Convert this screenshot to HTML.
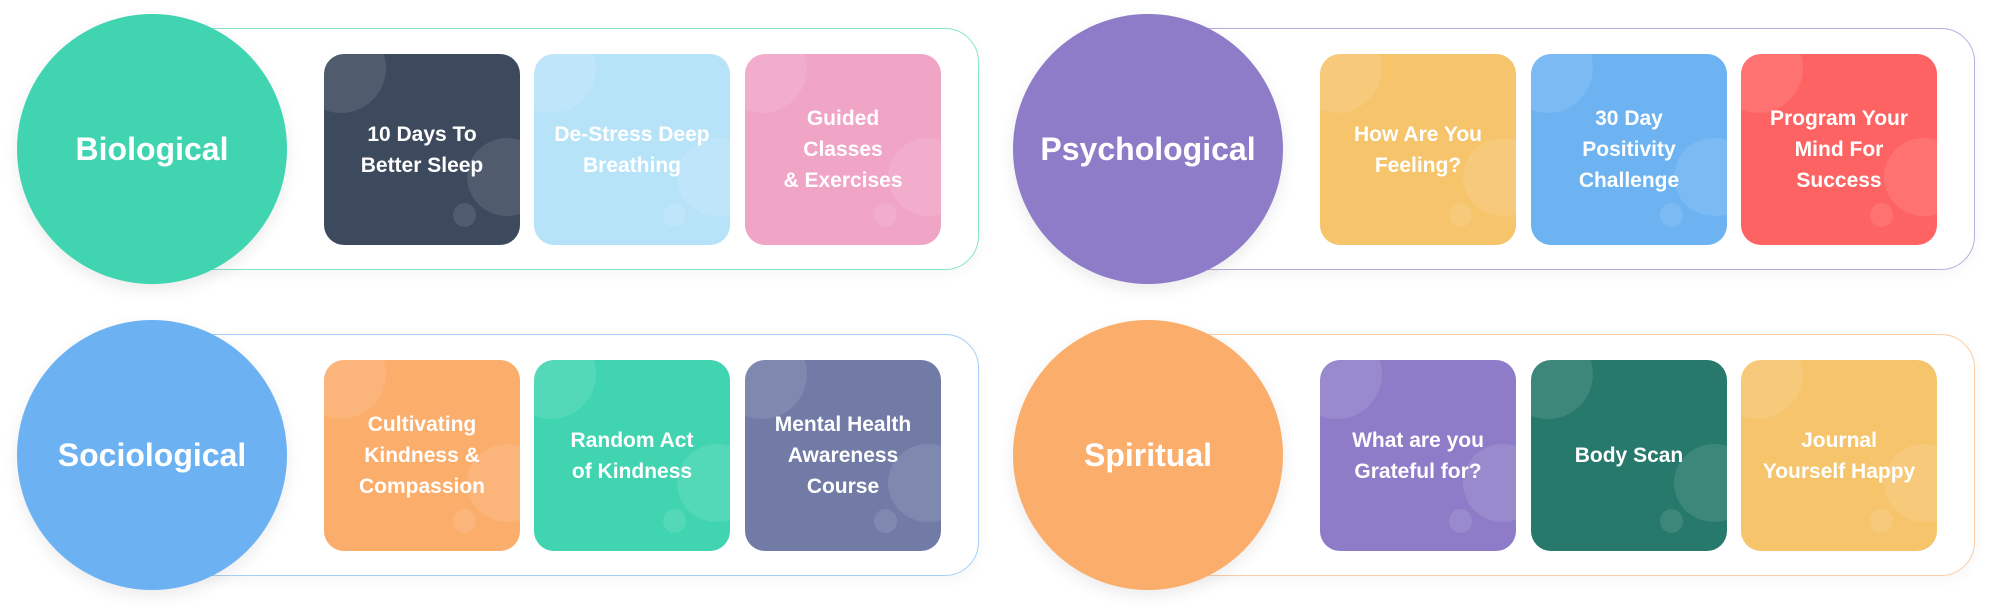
<!DOCTYPE html>
<html><head><style>
body{margin:0;width:2000px;height:610px;background:#fff;position:relative;overflow:hidden;font-family:"Liberation Sans",sans-serif;}
.panel{position:absolute;width:800px;height:242px;border:1.5px solid;border-radius:34px;box-sizing:border-box;background:#fff;box-shadow:0 4px 14px rgba(0,0,0,0.04);}
.circ{position:absolute;width:270px;height:270px;border-radius:50%;color:#fff;font-weight:bold;font-size:32px;display:flex;align-items:center;justify-content:center;box-shadow:0 6px 16px rgba(0,0,0,0.08);}
.card{position:absolute;width:196px;height:191px;border-radius:20px;overflow:hidden;color:#fff;font-weight:bold;font-size:21px;line-height:31px;text-align:center;display:flex;align-items:center;justify-content:center;}
.card span{position:relative;z-index:2;}
.b1,.b2,.b3{position:absolute;border-radius:50%;background:rgba(255,255,255,0.1);}
.b1{left:-28px;top:-31px;width:90px;height:90px;}
.b2{left:143px;top:84px;width:80px;height:78px;}
.b3{left:129px;top:149px;width:23px;height:24px;}
</style></head><body>

<div class="panel" style="left:179px;top:28px;border-color:#86e3cc"></div>
<div class="circ" style="left:17px;top:14px;background:#40d5b0">Biological</div>
<div class="card" style="left:324px;top:54px;background:#3d4a5d"><div class="b1"></div><div class="b2"></div><div class="b3"></div><span>10 Days To<br>Better Sleep</span></div>
<div class="card" style="left:534px;top:54px;background:#b7e3f9"><div class="b1"></div><div class="b2"></div><div class="b3"></div><span>De-Stress Deep<br>Breathing</span></div>
<div class="card" style="left:745px;top:54px;background:#f0a4c6"><div class="b1"></div><div class="b2"></div><div class="b3"></div><span>Guided<br>Classes<br>&amp; Exercises</span></div>

<div class="panel" style="left:1175px;top:28px;border-color:#b9ade0"></div>
<div class="circ" style="left:1013px;top:14px;background:#8e7cc8">Psychological</div>
<div class="card" style="left:1320px;top:54px;background:#f5c46b"><div class="b1"></div><div class="b2"></div><div class="b3"></div><span>How Are You<br>Feeling?</span></div>
<div class="card" style="left:1531px;top:54px;background:#6db3f2"><div class="b1"></div><div class="b2"></div><div class="b3"></div><span>30 Day<br>Positivity<br>Challenge</span></div>
<div class="card" style="left:1741px;top:54px;background:#fe6363"><div class="b1"></div><div class="b2"></div><div class="b3"></div><span>Program Your<br>Mind For<br>Success</span></div>

<div class="panel" style="left:179px;top:334px;border-color:#a4cff6"></div>
<div class="circ" style="left:17px;top:320px;background:#6cb2f2">Sociological</div>
<div class="card" style="left:324px;top:360px;background:#fbad6b"><div class="b1"></div><div class="b2"></div><div class="b3"></div><span>Cultivating<br>Kindness &amp;<br>Compassion</span></div>
<div class="card" style="left:534px;top:360px;background:#40d5b0"><div class="b1"></div><div class="b2"></div><div class="b3"></div><span>Random Act<br>of Kindness</span></div>
<div class="card" style="left:745px;top:360px;background:#717ba6"><div class="b1"></div><div class="b2"></div><div class="b3"></div><span>Mental Health<br>Awareness<br>Course</span></div>

<div class="panel" style="left:1175px;top:334px;border-color:#fccca2"></div>
<div class="circ" style="left:1013px;top:320px;background:#fbad6b">Spiritual</div>
<div class="card" style="left:1320px;top:360px;background:#8e7cc8"><div class="b1"></div><div class="b2"></div><div class="b3"></div><span>What are you<br>Grateful for?</span></div>
<div class="card" style="left:1531px;top:360px;background:#27796b"><div class="b1"></div><div class="b2"></div><div class="b3"></div><span>Body Scan</span></div>
<div class="card" style="left:1741px;top:360px;background:#f5c46b"><div class="b1"></div><div class="b2"></div><div class="b3"></div><span>Journal<br>Yourself Happy</span></div>

</body></html>
